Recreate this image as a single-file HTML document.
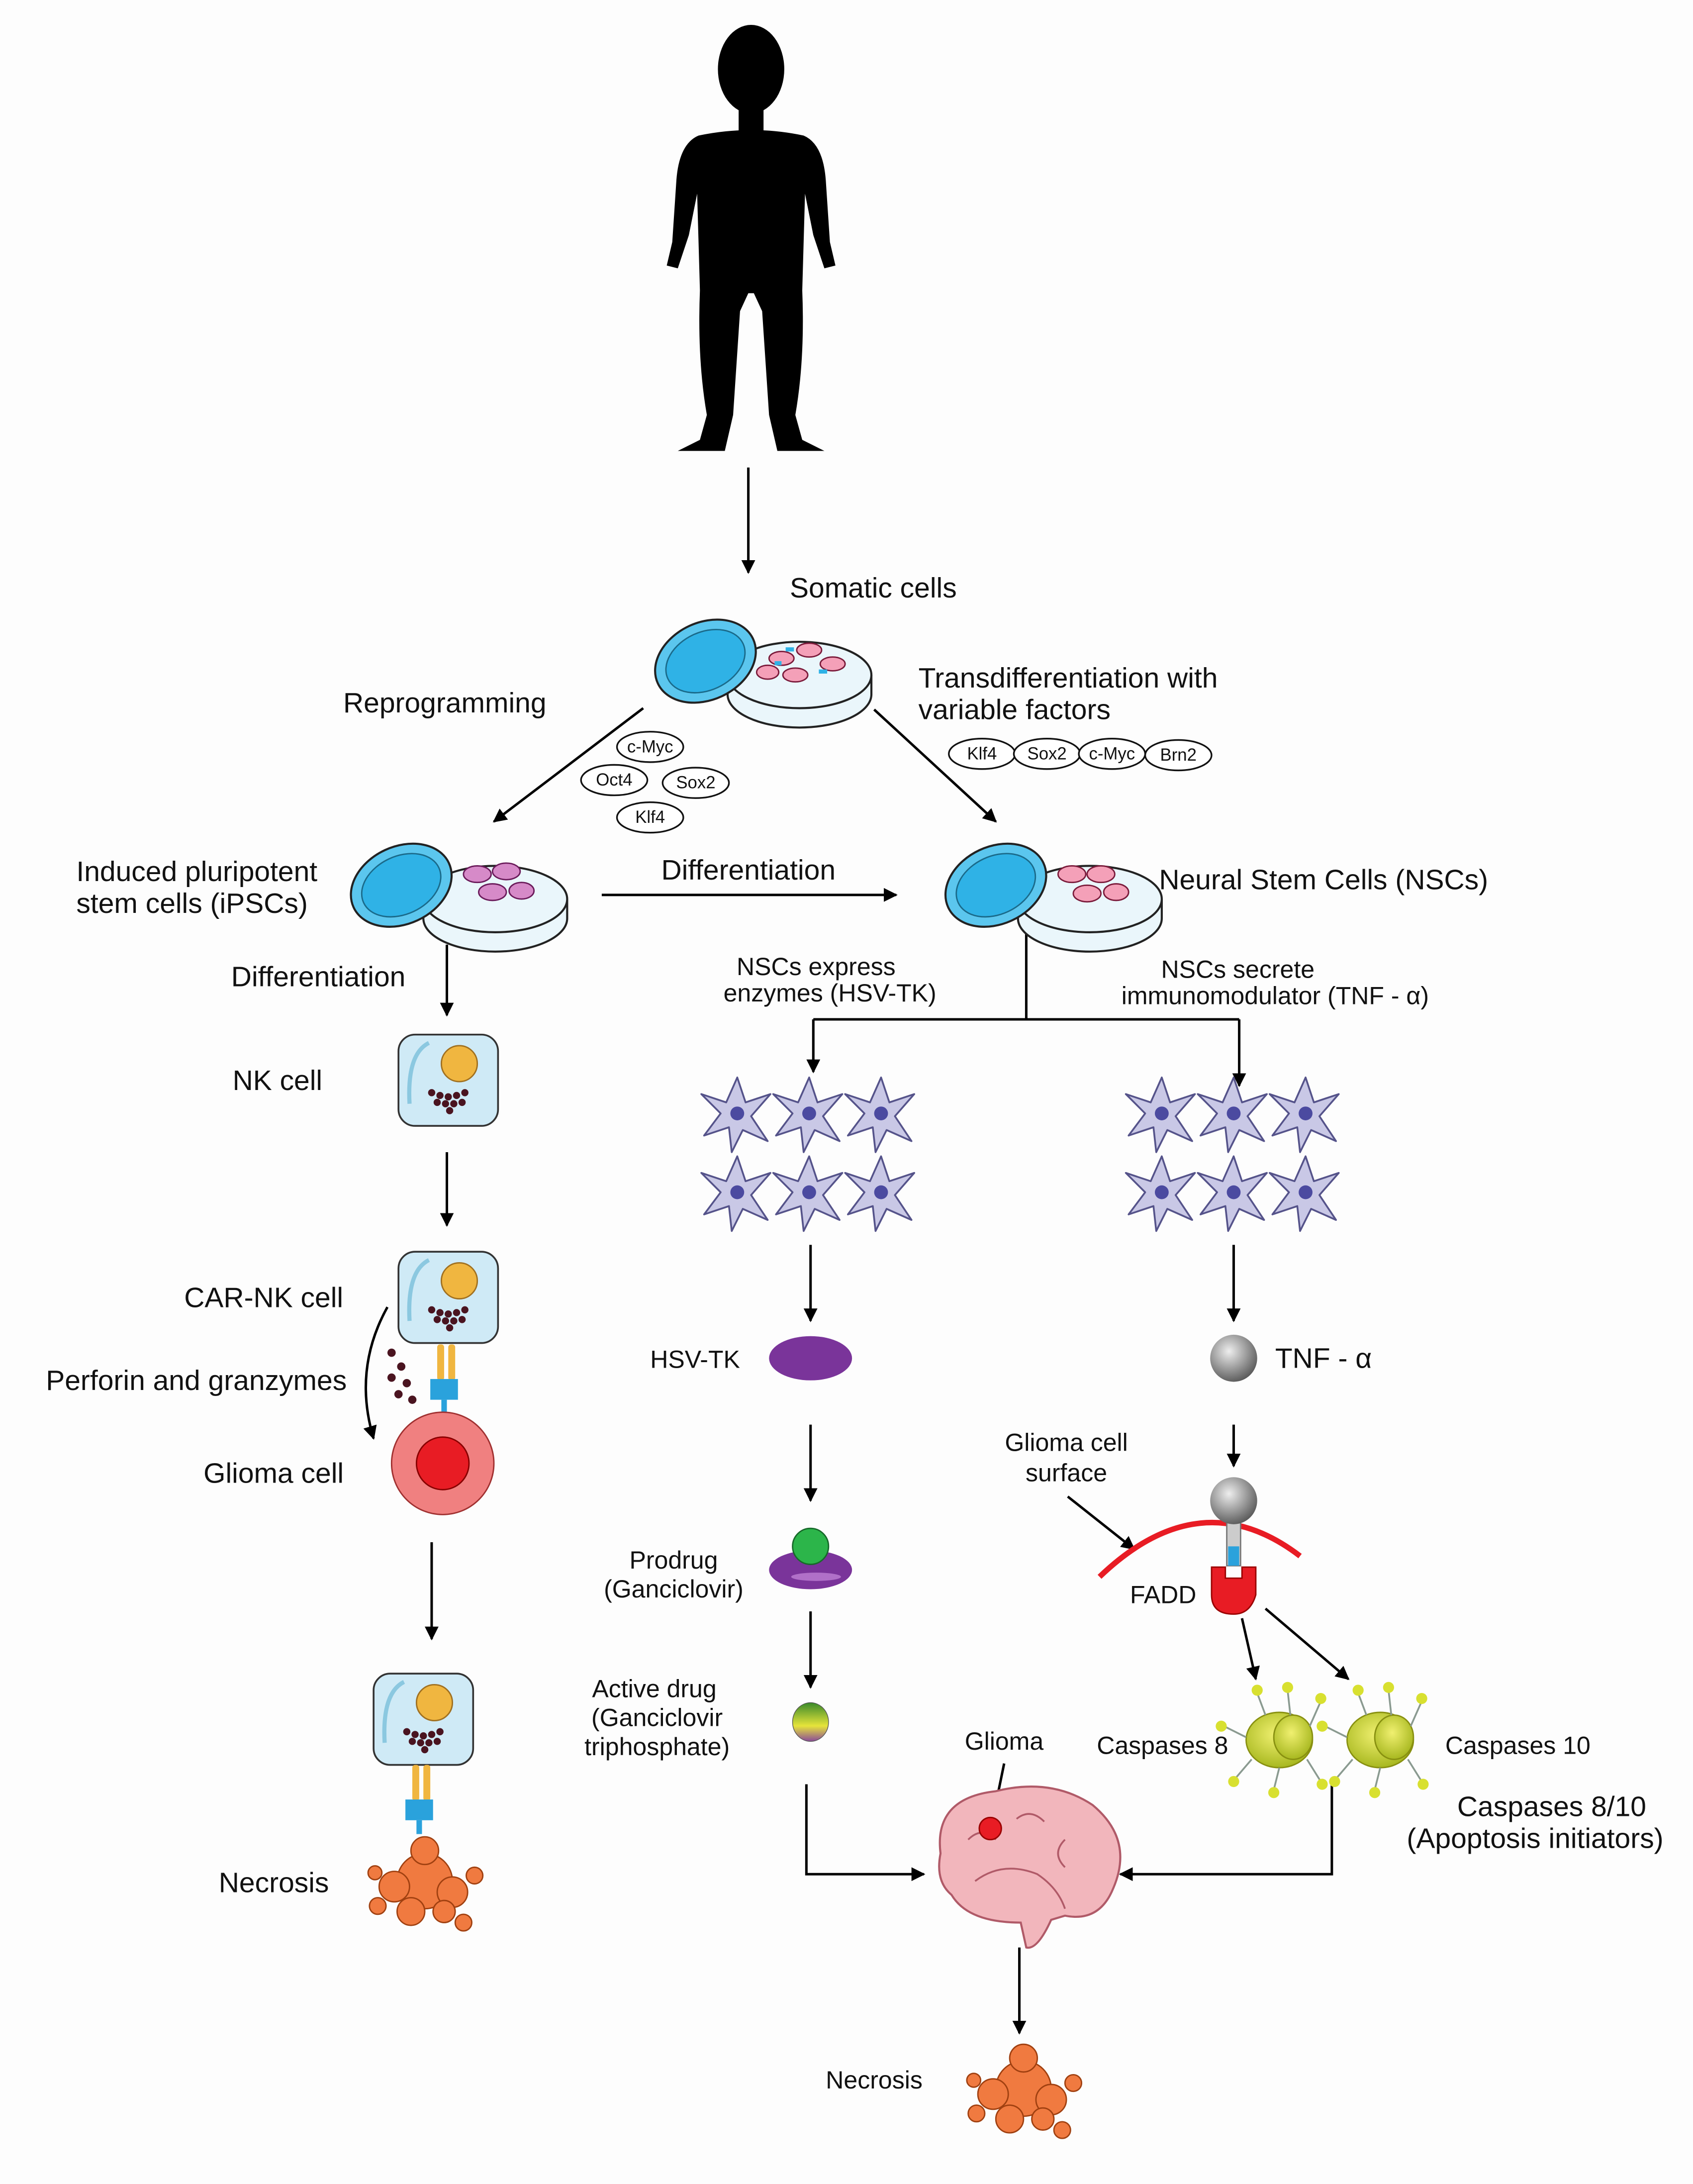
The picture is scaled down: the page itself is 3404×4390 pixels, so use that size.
<!DOCTYPE html>
<html><head><meta charset="utf-8"><style>
html,body{margin:0;padding:0;background:#fdfdfd}
svg{display:block}
text{font-family:"Liberation Sans",sans-serif;fill:#111}
</style></head><body>
<svg width="3404" height="4390" viewBox="0 0 1224 1579" xmlns="http://www.w3.org/2000/svg">
<defs>
<marker id="a" markerWidth="10" markerHeight="10" refX="9" refY="5" orient="auto" markerUnits="userSpaceOnUse"><path d="M0,0 L10,5 L0,10 z" fill="#000"/></marker>
<radialGradient id="gs" cx="40%" cy="35%" r="70%"><stop offset="0" stop-color="#eee"/><stop offset="1" stop-color="#555"/></radialGradient>
<linearGradient id="ad" x1="0" y1="0" x2="0" y2="1"><stop offset="0" stop-color="#3a8a2a"/><stop offset=".6" stop-color="#e6e43a"/><stop offset="1" stop-color="#8a4a9a"/></linearGradient>
<radialGradient id="cs" cx="45%" cy="40%" r="60%"><stop offset="0" stop-color="#f0f070"/><stop offset="1" stop-color="#a8b820"/></radialGradient>
<g id="dish">
<path d="M-14,10 v14 a52,24 0 0 0 104,0 v-14" fill="#eaf6fb" stroke="#222" stroke-width="1.5"/>
<ellipse cx="38" cy="10" rx="52" ry="24" fill="#eaf6fb" stroke="#222" stroke-width="1.5"/>
<ellipse cx="-30" cy="0" rx="38" ry="28" transform="rotate(-25 -30 0)" fill="#5bc6ee" stroke="#222" stroke-width="1.5"/>
<ellipse cx="-30" cy="0" rx="30" ry="21" transform="rotate(-25 -30 0)" fill="#2fb2e6" stroke="#1a6a8a" stroke-width="1"/>
</g>
<g id="star">
<path d="M0,-26 L6,-8 L24,-14 L10,2 L22,20 L4,12 L-4,28 L-6,10 L-24,16 L-12,0 L-26,-14 L-8,-8 z" fill="#c9c8e6" stroke="#55538a" stroke-width="1.3" stroke-linejoin="round"/>
<circle cx="0" cy="0" r="5" fill="#4b4aa0"/>
</g>
<g id="nk">
<rect x="0" y="0" width="72" height="66" rx="12" fill="#cfeaf6" stroke="#333" stroke-width="1.3"/>
<path d="M8,50 Q6,14 22,6" stroke="#8bc8e0" stroke-width="3" fill="none"/>
<circle cx="44" cy="21" r="13" fill="#f0b640" stroke="#a07020"/>
<g fill="#4a1420"><circle cx="24" cy="42" r="2.6"/><circle cx="30" cy="44" r="2.6"/><circle cx="36" cy="45" r="2.6"/><circle cx="42" cy="44" r="2.6"/><circle cx="48" cy="42" r="2.6"/><circle cx="28" cy="49" r="2.6"/><circle cx="34" cy="50" r="2.6"/><circle cx="40" cy="50" r="2.6"/><circle cx="46" cy="49" r="2.6"/><circle cx="37" cy="55" r="2.6"/></g>
</g>
<g id="rec">
<rect x="-3" y="0" width="5" height="26" rx="2" fill="#f0b640"/><rect x="5" y="0" width="5" height="26" rx="2" fill="#f0b640"/>
<rect x="-8" y="25" width="20" height="15" fill="#2aa2dc"/><rect x="0" y="40" width="4" height="10" fill="#2aa2dc"/>
</g>
<g id="nec">
<circle cx="0" cy="0" r="20" fill="#f07a40" stroke="#a04010"/>
<circle cx="-22" cy="4" r="11" fill="#f07a40" stroke="#a04010"/><circle cx="20" cy="8" r="11" fill="#f07a40" stroke="#a04010"/>
<circle cx="0" cy="-22" r="10" fill="#f07a40" stroke="#a04010"/><circle cx="-10" cy="22" r="10" fill="#f07a40" stroke="#a04010"/>
<circle cx="14" cy="22" r="8" fill="#f07a40" stroke="#a04010"/><circle cx="-34" cy="18" r="6" fill="#f07a40" stroke="#a04010"/>
<circle cx="36" cy="-4" r="6" fill="#f07a40" stroke="#a04010"/><circle cx="28" cy="30" r="6" fill="#f07a40" stroke="#a04010"/>
<circle cx="-36" cy="-6" r="5" fill="#f07a40" stroke="#a04010"/>
</g>
<g id="casp">
<ellipse cx="0" cy="0" rx="24" ry="20" fill="url(#cs)" stroke="#889010"/>
<ellipse cx="10" cy="-2" rx="14" ry="16" fill="url(#cs)" stroke="#889010"/>
<g stroke="#8a9a90" stroke-width="1.3"><line x1="-10" y1="-18" x2="-16" y2="-34"/><line x1="8" y1="-18" x2="6" y2="-36"/><line x1="22" y1="-10" x2="30" y2="-28"/><line x1="-24" y1="-2" x2="-40" y2="-10"/><line x1="-20" y1="14" x2="-32" y2="28"/><line x1="0" y1="20" x2="-4" y2="36"/><line x1="20" y1="14" x2="30" y2="30"/></g>
<g fill="#d8e030"><circle cx="-16" cy="-36" r="4"/><circle cx="6" cy="-38" r="4"/><circle cx="30" cy="-30" r="4"/><circle cx="-42" cy="-10" r="4"/><circle cx="-33" cy="30" r="4"/><circle cx="-4" cy="38" r="4"/><circle cx="31" cy="32" r="4"/></g>
</g>
</defs>
<rect width="1224" height="1579" fill="#fdfdfd"/>

<!-- human silhouette -->
<g fill="#000">
<ellipse cx="543" cy="50" rx="24" ry="32"/>
<rect x="534" y="72" width="18" height="30"/>
<path d="M505,98 Q543,90 581,98 Q595,104 597,130 L600,175 L604,192 L596,194 L588,170 L582,140 L580,210 Q582,260 575,300 L580,318 L596,326 L562,326 L556,300 L551,225 L545,212 L541,212 L535,225 L530,300 L524,326 L490,326 L506,318 L511,300 Q504,260 506,210 L504,140 L498,170 L490,194 L482,192 L486,175 L489,130 Q491,104 505,98 z"/>
</g>

<g stroke="#000" stroke-width="1.8" fill="none">
<line x1="541" y1="338" x2="541" y2="414" marker-end="url(#a)"/>
<line x1="465" y1="512" x2="357" y2="594" marker-end="url(#a)"/>
<line x1="632" y1="513" x2="720" y2="594" marker-end="url(#a)"/>
<line x1="435" y1="647" x2="648" y2="647" marker-end="url(#a)"/>
<line x1="323" y1="683" x2="323" y2="734" marker-end="url(#a)"/>
<line x1="323" y1="833" x2="323" y2="886" marker-end="url(#a)"/>
<line x1="312" y1="1115" x2="312" y2="1185" marker-end="url(#a)"/>
<path d="M742,672 V737 M588,737 H896"/>
<line x1="588" y1="737" x2="588" y2="775" marker-end="url(#a)"/>
<line x1="896" y1="737" x2="896" y2="785" marker-end="url(#a)"/>
<line x1="586" y1="900" x2="586" y2="955" marker-end="url(#a)"/>
<line x1="586" y1="1030" x2="586" y2="1085" marker-end="url(#a)"/>
<line x1="586" y1="1165" x2="586" y2="1220" marker-end="url(#a)"/>
<path d="M583,1290 V1355 H668" marker-end="url(#a)"/>
<line x1="737" y1="1408" x2="737" y2="1470" marker-end="url(#a)"/>
<line x1="892" y1="900" x2="892" y2="955" marker-end="url(#a)"/>
<line x1="892" y1="1030" x2="892" y2="1060" marker-end="url(#a)"/>
<line x1="772" y1="1082" x2="820" y2="1120" marker-end="url(#a)"/>
<line x1="898" y1="1170" x2="908" y2="1214" marker-end="url(#a)"/>
<line x1="915" y1="1163" x2="975" y2="1214" marker-end="url(#a)"/>
<path d="M963,1290 V1355 H810" marker-end="url(#a)"/>
<line x1="726" y1="1275" x2="718" y2="1314" marker-end="url(#a)"/>
<path d="M280,945 Q255,990 270,1040" marker-end="url(#a)"/>
</g>

<use href="#dish" x="540" y="478"/>
<g fill="#f4a0b8" stroke="#7a1a3a" stroke-width="1"><ellipse cx="565" cy="476" rx="9" ry="5"/><ellipse cx="585" cy="470" rx="9" ry="5"/><ellipse cx="602" cy="480" rx="9" ry="5"/><ellipse cx="575" cy="488" rx="9" ry="5"/><ellipse cx="555" cy="486" rx="8" ry="5"/></g>
<g fill="#2fb2e6"><rect x="568" y="468" width="6" height="3"/><rect x="592" y="484" width="6" height="3"/><rect x="560" y="478" width="5" height="3"/></g>
<use href="#dish" x="320" y="640"/>
<g fill="#d68ac8" stroke="#6a1a5a" stroke-width="1"><ellipse cx="345" cy="632" rx="10" ry="6"/><ellipse cx="366" cy="630" rx="10" ry="6"/><ellipse cx="356" cy="645" rx="10" ry="6"/><ellipse cx="377" cy="644" rx="9" ry="6"/></g>
<use href="#dish" x="750" y="640"/>
<g fill="#f4a0b8" stroke="#7a1a3a" stroke-width="1"><ellipse cx="775" cy="632" rx="10" ry="6"/><ellipse cx="796" cy="632" rx="10" ry="6"/><ellipse cx="786" cy="646" rx="10" ry="6"/><ellipse cx="807" cy="645" rx="9" ry="6"/></g>

<g fill="#fff" stroke="#111" stroke-width="1.2">
<ellipse cx="470" cy="540" rx="24" ry="11"/><ellipse cx="444" cy="564" rx="24" ry="11"/><ellipse cx="503" cy="566" rx="24" ry="11"/><ellipse cx="470" cy="591" rx="24" ry="11"/>
<ellipse cx="710" cy="545" rx="24" ry="11"/><ellipse cx="757" cy="545" rx="24" ry="11"/><ellipse cx="804" cy="545" rx="24" ry="11"/><ellipse cx="852" cy="546" rx="24" ry="11"/>
</g>
<g font-size="12.5" text-anchor="middle">
<text x="470" y="544">c-Myc</text><text x="444" y="568">Oct4</text><text x="503" y="570">Sox2</text><text x="470" y="595">Klf4</text>
<text x="710" y="549">Klf4</text><text x="757" y="549">Sox2</text><text x="804" y="549">c-Myc</text><text x="852" y="550">Brn2</text>
</g>

<use href="#nk" x="288" y="748"/>
<use href="#nk" x="288" y="905"/>
<use href="#rec" x="319" y="972"/>
<circle cx="320" cy="1058" r="37" fill="#f08080" stroke="#a03030"/>
<circle cx="320" cy="1058" r="19" fill="#e81c24" stroke="#800"/>
<g fill="#4a1420"><circle cx="283" cy="978" r="3"/><circle cx="290" cy="988" r="3"/><circle cx="283" cy="996" r="3"/><circle cx="294" cy="1000" r="3"/><circle cx="288" cy="1008" r="3"/><circle cx="298" cy="1012" r="3"/></g>
<use href="#nk" x="270" y="1210"/>
<use href="#rec" x="301" y="1276"/>
<use href="#nec" x="307" y="1360"/>

<use href="#star" x="533" y="805"/><use href="#star" x="585" y="805"/><use href="#star" x="637" y="805"/>
<use href="#star" x="533" y="862"/><use href="#star" x="585" y="862"/><use href="#star" x="637" y="862"/>
<use href="#star" x="840" y="805"/><use href="#star" x="892" y="805"/><use href="#star" x="944" y="805"/>
<use href="#star" x="840" y="862"/><use href="#star" x="892" y="862"/><use href="#star" x="944" y="862"/>

<ellipse cx="586" cy="982" rx="30" ry="16" fill="#7a349a"/>
<ellipse cx="586" cy="1135" rx="30" ry="14" fill="#7a349a"/>
<ellipse cx="590" cy="1140" rx="18" ry="3" fill="#b070c8"/>
<circle cx="586" cy="1118" r="13" fill="#2cb54a" stroke="#176a2a"/>
<ellipse cx="586" cy="1245" rx="13" ry="14" fill="url(#ad)" stroke="#555" stroke-width=".5"/>

<circle cx="892" cy="982" r="17" fill="url(#gs)"/>
<path d="M795,1140 Q868,1070 940,1125" stroke="#e81c24" stroke-width="4" fill="none"/>
<rect x="887" y="1098" width="10" height="34" fill="#ccc" stroke="#777"/>
<rect x="888" y="1118" width="8" height="14" fill="#2aa2dc"/>
<circle cx="892" cy="1085" r="17" fill="url(#gs)"/>
<path d="M876,1133 h10 v8 h12 v-8 h10 v20 q-4,14 -16,14 q-16,0 -16,-14 z" fill="#e81c24" stroke="#900"/>
<use href="#casp" x="925" y="1258"/>
<use href="#casp" x="998" y="1258"/>

<path d="M680,1340 Q675,1300 720,1295 Q760,1285 790,1305 Q820,1330 805,1365 Q795,1390 770,1385 L760,1388 Q750,1410 742,1408 L738,1390 Q700,1390 688,1370 Q676,1360 680,1340 z" fill="#f2b6bc" stroke="#b05a68" stroke-width="1.5"/>
<path d="M700,1330 q10,-10 20,0 M735,1315 q10,-8 20,2 M770,1330 q-10,10 0,20 M705,1360 q20,-15 45,-5 q15,10 20,25" stroke="#b05a68" fill="none" stroke-width="1.3"/>
<circle cx="716" cy="1322" r="8" fill="#e81c24" stroke="#900"/>
<use href="#nec" x="740" y="1510"/>

<g font-size="20.5">
<text x="571" y="432">Somatic cells</text>
<text x="248" y="515">Reprogramming</text>
<text x="664" y="497">Transdifferentiation with</text>
<text x="664" y="520">variable factors</text>
<text x="55" y="637">Induced pluripotent</text>
<text x="55" y="660">stem cells (iPSCs)</text>
<text x="478" y="636">Differentiation</text>
<text x="838" y="643">Neural Stem Cells (NSCs)</text>
<text x="167" y="713">Differentiation</text>
<text x="168" y="788">NK cell</text>
<text x="133" y="945">CAR-NK cell</text>
<text x="33" y="1005">Perforin and granzymes</text>
<text x="147" y="1072">Glioma cell</text>
<text x="158" y="1368">Necrosis</text>
<text x="922" y="989">TNF - α</text>
<text x="470" y="989" font-size="18">HSV-TK</text>
<text x="793" y="1268" font-size="18">Caspases 8</text>
<text x="1045" y="1268" font-size="18">Caspases 10</text>
</g>
<g font-size="18" text-anchor="middle">
<text x="590" y="705">NSCs express</text>
<text x="600" y="724">enzymes (HSV-TK)</text>
<text x="895" y="707">NSCs secrete</text>
<text x="922" y="726">immunomodulator (TNF - α)</text>
<text x="487" y="1134">Prodrug</text>
<text x="487" y="1155">(Ganciclovir)</text>
<text x="473" y="1227">Active drug</text>
<text x="475" y="1248">(Ganciclovir</text>
<text x="475" y="1269">triphosphate)</text>
<text x="771" y="1049">Glioma cell</text>
<text x="771" y="1071">surface</text>
<text x="841" y="1159">FADD</text>
<text x="726" y="1265">Glioma</text>
<text x="632" y="1510">Necrosis</text>
<text x="1122" y="1313" font-size="20.5">Caspases 8/10</text>
<text x="1110" y="1336" font-size="20.5">(Apoptosis initiators)</text>
</g>
</svg>
</body></html>
